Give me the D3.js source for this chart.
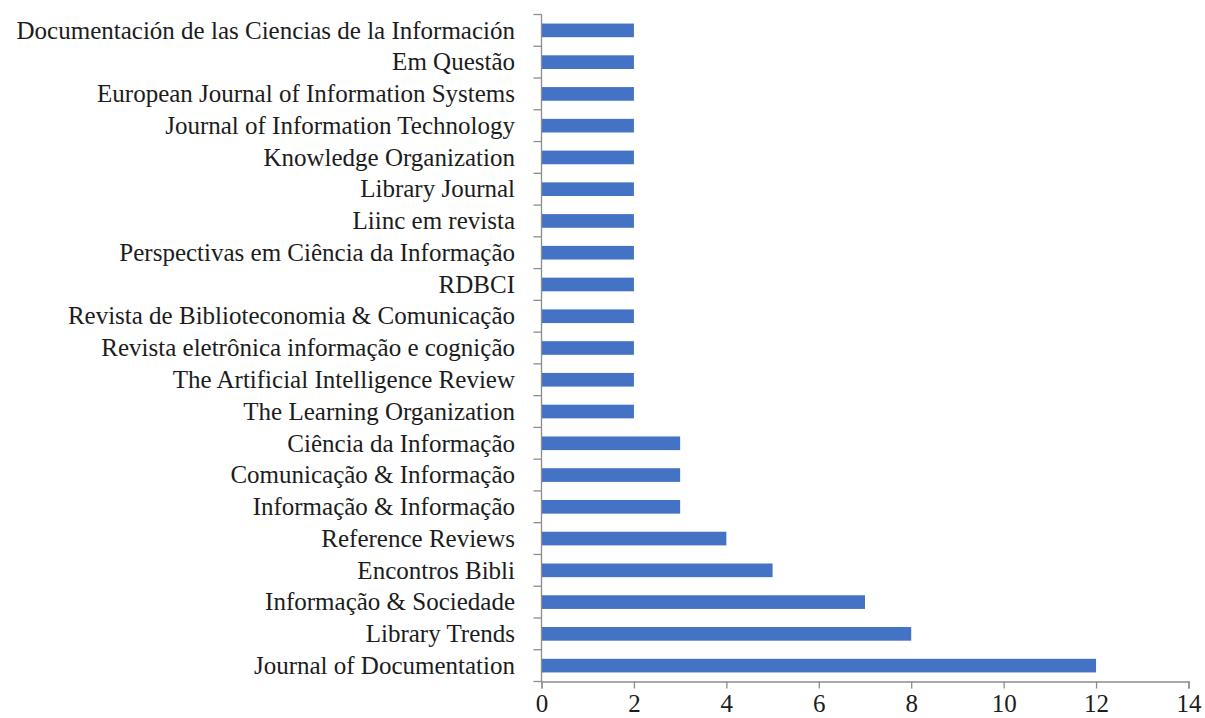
<!DOCTYPE html>
<html>
<head>
<meta charset="utf-8">
<script src="https://cdn.jsdelivr.net/npm/d3@7"></script>
<style>
  body { margin: 0; background: #fff; }
  svg { display: block; }
  .lbl { font-family: "Liberation Serif", "Times New Roman", serif; font-size: 25px; fill: #1c1c1c; }
</style>
</head>
<body>
<svg id="chart" width="1205" height="718"></svg>
<script>
// journals, top to bottom
const journals = [
  "Documentación de las Ciencias de la Información",
  "Em Questão",
  "European Journal of Information Systems",
  "Journal of Information Technology",
  "Knowledge Organization",
  "Library Journal",
  "Liinc em revista",
  "Perspectivas em Ciência da Informação",
  "RDBCI",
  "Revista de Biblioteconomia & Comunicação",
  "Revista eletrônica informação e cognição",
  "The Artificial Intelligence Review",
  "The Learning Organization",
  "Ciência da Informação",
  "Comunicação & Informação",
  "Informação & Informação",
  "Reference Reviews",
  "Encontros Bibli",
  "Informação & Sociedade",
  "Library Trends",
  "Journal of Documentation"
];
const counts = [2, 2, 2, 2, 2, 2, 2, 2, 2, 2, 2, 2, 2, 3, 3, 3, 4, 5, 7, 8, 12];
const xTicks = [0, 2, 4, 6, 8, 10, 12, 14];

const svg = d3.select('#chart');
const axisColor = '#8c8c8c';
const barColor = '#4472c4';

// plot area edges
const plotLeft = 541.5, plotRight = 1188.5, plotTop = 14.5, plotBottom = 681.5;

const x = d3.scaleLinear().domain([0, 14]).range([plotLeft, plotRight]);
const y = d3.scaleBand()
    .domain(journals)
    .range([plotTop, plotBottom])
    .paddingInner(0.57)
    .paddingOuter(0.285);

// bars
svg.append('g')
    .selectAll('rect')
    .data(journals)
    .enter()
    .append('rect')
    .attr('x', x(0))
    .attr('y', d => y(d))
    .attr('width', (d, i) => x(counts[i]) - x(0))
    .attr('height', y.bandwidth())
    .attr('fill', barColor);

// category axis: line + ticks at band boundaries
const step = y.step();
const gy = svg.append('g');
gy.append('line')
    .attr('x1', plotLeft).attr('x2', plotLeft)
    .attr('y1', plotTop).attr('y2', plotBottom)
    .attr('stroke', axisColor).attr('stroke-width', 1.3);
gy.selectAll('line.tk')
    .data(d3.range(journals.length + 1))
    .enter()
    .append('line')
    .attr('class', 'tk')
    .attr('x1', plotLeft - 8).attr('x2', plotLeft)
    .attr('y1', i => plotTop + i * step).attr('y2', i => plotTop + i * step)
    .attr('stroke', axisColor).attr('stroke-width', 1.3);

gy.selectAll('text')
    .data(journals)
    .enter()
    .append('text')
    .attr('class', 'lbl')
    .attr('x', 515)
    .attr('y', d => y(d) + y.bandwidth() / 2)
    .attr('dy', '0.33em')
    .attr('text-anchor', 'end')
    .text(d => d);

// value axis
const xAxis = d3.axisBottom(x)
    .tickValues(xTicks)
    .tickSize(7)
    .tickPadding(6)
    .tickFormat(d3.format('d'));

const gx = svg.append('g')
    .attr('transform', 'translate(0,' + plotBottom + ')')
    .call(xAxis);
gx.attr('font-size', null).attr('font-family', null);
gx.select('.domain').attr('stroke', axisColor).attr('stroke-width', 1.3);
gx.selectAll('.tick line').attr('stroke', axisColor).attr('stroke-width', 1.3);
gx.selectAll('.tick text')
    .attr('class', 'lbl')
    .attr('fill', null);
</script>
</body>
</html>
